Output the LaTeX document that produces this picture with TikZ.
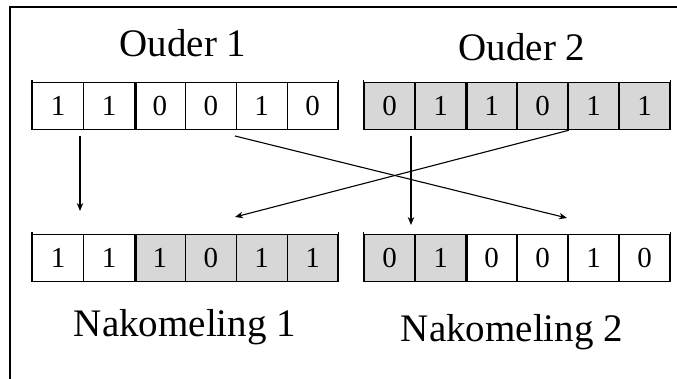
\documentclass[tikz,border=0pt]{standalone}
\usepackage{fontspec}
\setmainfont{Liberation Serif}
\usetikzlibrary{arrows.meta}
\definecolor{cellgray}{RGB}{215,215,215}
\begin{document}
\begin{tikzpicture}[x=1pt,y=-1pt,
  cell/.style={draw, line width=1.3pt, minimum width=50.9pt, minimum height=47pt,
    inner sep=0pt, anchor=north west, font=\fontsize{29}{31}\selectfont},
  lbl/.style={font=\fontsize{39}{44}\selectfont, anchor=base, inner sep=0pt},
  sep/.style={line width=3pt},
  endtick/.style={line width=1.3pt},
  arr/.style={line width=1.1pt, -{Stealth[length=8pt,width=6.5pt]}}]
\useasboundingbox (0,0) rectangle (677,378);
\clip (0,0) rectangle (677,378);
% frame (only left and top edges are visible)
\draw[line width=2.5pt] (10,390) -- (10,7) -- (690,7);
% labels
\node[lbl] (l1) at (183,56) {Ouder 1};
\node[lbl] (l2) at (522,60) {Ouder 2};
\node[lbl] (l3) at (185,336) {Nakomeling 1};
\node[lbl] (l4) at (512,341) {Nakomeling 2};
% rows
\foreach \v/\f [count=\i] in {1/white,1/white,0/white,0/white,1/white,0/white}
  \node[cell, fill=\f] (pa\i) at ({32+(\i-1)*50.9},82) {\v};
\foreach \v/\f [count=\i] in {0/cellgray,1/cellgray,1/cellgray,0/cellgray,1/cellgray,1/cellgray}
  \node[cell, fill=\f] (pb\i) at ({363.5+(\i-1)*51},82) {\v};
\foreach \v/\f [count=\i] in {1/white,1/white,1/cellgray,0/cellgray,1/cellgray,1/cellgray}
  \node[cell, fill=\f] (na\i) at ({32+(\i-1)*50.9},234) {\v};
\foreach \v/\f [count=\i] in {0/cellgray,1/cellgray,0/white,0/white,1/white,0/white}
  \node[cell, fill=\f] (nb\i) at ({363.5+(\i-1)*51},234) {\v};
% crossover separators and end ticks
\foreach \r in {pa,pb,na,nb}{
  \draw[sep] (\r2.north east) -- (\r2.south east);
  \draw[endtick] ([yshift=2.5pt]\r1.north west) -- (\r1.south west);
  \draw[endtick] ([yshift=2.5pt]\r6.north east) -- (\r6.south east);
}
% arrows
\coordinate (s1) at (80,136);
\coordinate (e1) at (80,211);
\coordinate (s2) at (235,136);
\coordinate (e2) at (567,218);
\coordinate (e3) at (235,217);
\coordinate (s4) at (411,136);
\coordinate (e4) at (411,225);
\draw[arr] (s1) -- (e1);
\draw[arr] (s2) -- (e2);
\draw[arr] (pb4.south east) -- (e3);
\draw[arr] (s4) -- (e4);
\end{tikzpicture}
\end{document}
